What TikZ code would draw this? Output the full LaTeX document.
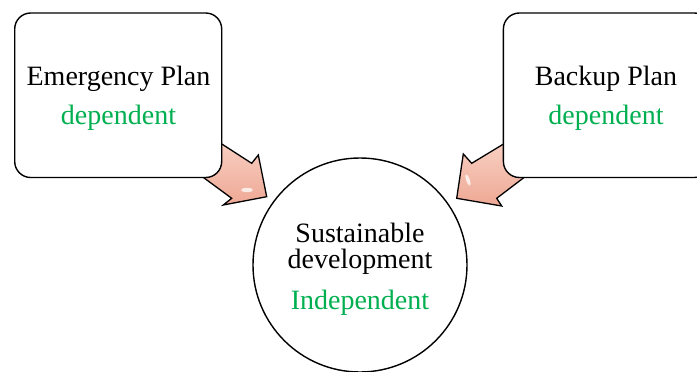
\documentclass[tikz,border=0pt]{standalone}
\usepackage{fontspec}
\setmainfont{Liberation Serif}
\definecolor{labelgreen}{RGB}{0,176,80}
\definecolor{arrowlight}{RGB}{250,214,202}
\definecolor{arrowdark}{RGB}{238,168,148}
\begin{document}
\begin{tikzpicture}[x=1pt,y=-1pt,
  planbox/.style={draw=black, line width=1.4pt, fill=white, rounded corners=16pt,
    minimum width=207pt, minimum height=164.5pt, inner sep=0pt, anchor=north west},
  hubcircle/.style={draw=black, line width=1.4pt, fill=white, circle,
    minimum size=214pt, inner sep=0pt},
  blockarrow/.style={draw=black, line width=1.3pt, line join=miter,
    top color=arrowlight, bottom color=arrowdark},
  glare/.style={fill=white, opacity=0.75},
  txt/.style={font=\fontsize{28}{28}\selectfont, text=black},
  gtxt/.style={font=\fontsize{28}{28}\selectfont, text=labelgreen}]
\useasboundingbox (0,0) rectangle (697,372);

% block arrows, drawn first so the boxes cover their tails
\path[blockarrow] (201.7,131) -- (251.7,163.3) -- (258.3,155) -- (266.7,196.7)
  -- (223.3,205) -- (231.7,198.3) -- (183.3,162.7) -- cycle;
\path[blockarrow] (521.7,133) -- (471.7,163.3) -- (463.3,154) -- (456.7,198.3)
  -- (501.7,206) -- (496.7,198.3) -- (540,165.3) -- cycle;
\fill[glare] (247,190) ellipse (6pt and 2.2pt);
\fill[glare, rotate around={-70:(468,180)}] (468,180) ellipse (6pt and 1.8pt);

% the two plans and the goal
\node[planbox] (emergency) at (14,12.3) {};
\node[planbox] (backup) at (502.7,12.3) {};
\node[hubcircle] (goal) at (360,265) {};

% labels
\node[txt] (emergencyname) at (118.5,79) {Emergency Plan};
\node[gtxt] (emergencykind) at (118.5,117.5) {dependent};
\node[txt] (backupname) at (606,79) {Backup Plan};
\node[gtxt] (backupkind) at (606,117.5) {dependent};
\node[txt] (goalname1) at (360,233) {Sustainable};
\node[txt] (goalname2) at (360,262) {development};
\node[gtxt] (goalkind) at (360,303) {Independent};
\end{tikzpicture}
\end{document}
